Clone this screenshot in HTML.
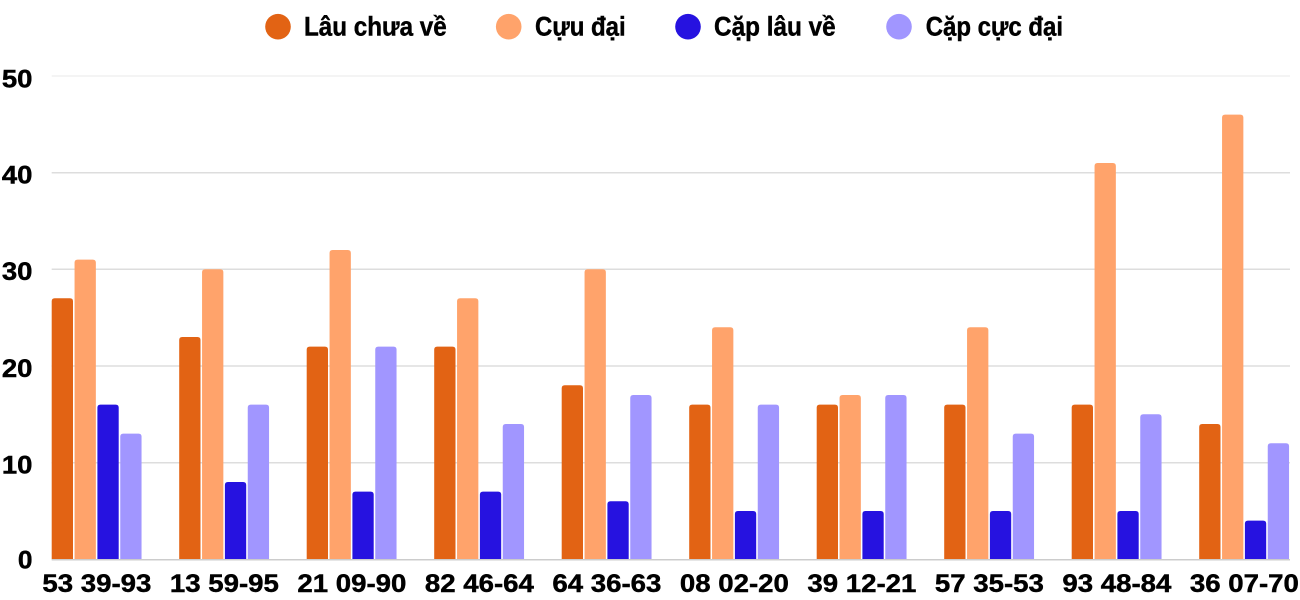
<!DOCTYPE html>
<html><head><meta charset="utf-8"><style>
html,body{margin:0;padding:0;background:#fff;}
svg{display:block;}
text{font-family:"Liberation Sans","Noto Sans CJK SC",sans-serif;font-weight:bold;fill:#000;stroke:#000;stroke-width:0.45px;}
</style></head><body>
<svg width="1300" height="600" viewBox="0 0 1300 600" xmlns="http://www.w3.org/2000/svg">
<!-- legend -->
<circle cx="278" cy="26.7" r="12.8" fill="#E26314"/>
<text x="304" y="35.7" font-size="27" textLength="142.7" lengthAdjust="spacingAndGlyphs">Lâu chưa về</text>
<circle cx="508.7" cy="26.7" r="12.8" fill="#FFA36B"/>
<text x="535" y="35.7" font-size="27" textLength="90.7" lengthAdjust="spacingAndGlyphs">Cựu đại</text>
<circle cx="688" cy="26.7" r="12.8" fill="#2612E0"/>
<text x="714" y="35.7" font-size="27" textLength="121.7" lengthAdjust="spacingAndGlyphs">Cặp lâu về</text>
<circle cx="899" cy="26.7" r="12.8" fill="#A196FF"/>
<text x="925.7" y="35.7" font-size="27" textLength="137.3" lengthAdjust="spacingAndGlyphs">Cặp cực đại</text>
<!-- gridlines -->
<g stroke-width="1.5">
<line x1="51.7" x2="1290" y1="76" y2="76" stroke="#f0f0f0"/>
<line x1="51.7" x2="1290" y1="172.7" y2="172.7" stroke="#dddddd"/>
<line x1="51.7" x2="1290" y1="269.3" y2="269.3" stroke="#dddddd"/>
<line x1="51.7" x2="1290" y1="366" y2="366" stroke="#dddddd"/>
<line x1="51.7" x2="1290" y1="462.7" y2="462.7" stroke="#dddddd"/>
</g>
<!-- y labels -->
<g font-size="25" text-anchor="end">
<text x="32.5" y="87.5" textLength="30.6" lengthAdjust="spacingAndGlyphs">50</text>
<text x="32.5" y="183.5" textLength="30.6" lengthAdjust="spacingAndGlyphs">40</text>
<text x="32.5" y="280" textLength="30.6" lengthAdjust="spacingAndGlyphs">30</text>
<text x="32.5" y="377" textLength="30.6" lengthAdjust="spacingAndGlyphs">20</text>
<text x="32.5" y="473.5" textLength="30.6" lengthAdjust="spacingAndGlyphs">10</text>
<text x="32.5" y="568.5" textLength="14.6" lengthAdjust="spacingAndGlyphs">0</text>
</g>
<g id="bars"></g>
<line x1="51.7" x2="1290" y1="559.8" y2="559.8" stroke="#cccccc" stroke-width="1.5"/>
<g id="labels" font-size="25" text-anchor="middle"></g>
<script>
(function(){
var data=[
["53 39-93",27,31,16,13],
["13 59-95",23,30,8,16],
["21 09-90",22,32,7,22],
["82 46-64",22,27,7,14],
["64 36-63",18,30,6,17],
["08 02-20",16,24,5,16],
["39 12-21",16,17,5,17],
["57 35-53",16,24,5,13],
["93 48-84",16,41,5,15],
["36 07-70",14,46,4,12]];
var cols=["#E26314","#FFA36B","#2612E0","#A196FF"];
var ns="http://www.w3.org/2000/svg";
var bars=document.getElementById("bars"),labs=document.getElementById("labels");
var base=559.3,unit=9.667,w=21.3,r=3;
data.forEach(function(d,g){
 var s=51.7+127.5*g;
 for(var i=0;i<4;i++){
  var x=s+i*22.85, h=d[i+1]*unit, y=base-h;
  var p=document.createElementNS(ns,"path");
  p.setAttribute("d","M"+x+","+base+" L"+x+","+(y+r)+" Q"+x+","+y+" "+(x+r)+","+y+" L"+(x+w-r)+","+y+" Q"+(x+w)+","+y+" "+(x+w)+","+(y+r)+" L"+(x+w)+","+base+" Z");
  p.setAttribute("fill",cols[i]);
  bars.appendChild(p);
 }
 var t=document.createElementNS(ns,"text");
 t.setAttribute("x",(s+45.2).toFixed(1));
 t.setAttribute("y","592");
 t.setAttribute("textLength","109");
 t.setAttribute("lengthAdjust","spacingAndGlyphs");
 t.textContent=d[0];
 labs.appendChild(t);
});
})();
</script>
</svg>
</body></html>
